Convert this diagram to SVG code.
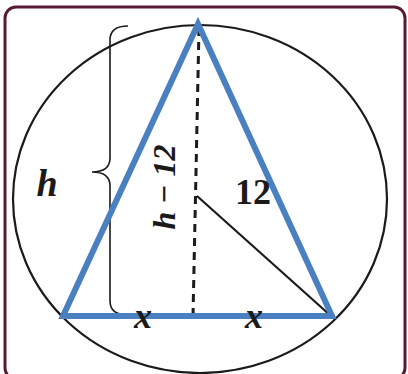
<svg xmlns="http://www.w3.org/2000/svg" width="408" height="374" viewBox="0 0 408 374">
<style>
.lbl{font-family:"Liberation Serif","DejaVu Serif",serif;font-weight:bold;fill:#1a1a1a}
.it{font-style:italic}
</style>
<rect width="408" height="374" fill="#fff"/>
<g id="frame"><rect x="5" y="7" width="400" height="372" rx="11" fill="none" stroke="#5a1a35" stroke-width="3"/></g>
<g id="circle"><ellipse cx="200" cy="199" rx="187" ry="174" fill="none" stroke="#1a1a1a" stroke-width="2.2"/></g>
<g id="connectors">
<line x1="199" y1="28" x2="193" y2="316" stroke="#1a1a1a" stroke-width="3" stroke-dasharray="8,6"/>
<line x1="197" y1="196" x2="331" y2="316" stroke="#1a1a1a" stroke-width="2.2"/>
<path d="M128 26 Q110 26 110 40 L110 158 Q110 172 92 172 Q110 172 110 186 L110 301 Q110 315 128 315" fill="none" stroke="#1a1a1a" stroke-width="1.6"/>
</g>
<g id="triangle"><polygon points="198,24 63,316 332,316" fill="none" stroke="#4a80bf" stroke-width="6" stroke-linejoin="miter"/></g>
<g id="labels">
<text class="lbl it" x="47" y="196" font-size="38" text-anchor="middle">h</text>
<text class="lbl it" x="0" y="0" font-size="32" text-anchor="middle" transform="translate(175,187) rotate(-90)">h − 12</text>
<text class="lbl" x="253" y="204" font-size="36" text-anchor="middle">12</text>
<text class="lbl it" x="143" y="328" font-size="36" text-anchor="middle">x</text>
<text class="lbl it" x="254" y="328" font-size="36" text-anchor="middle">x</text>
</g>
</svg>
